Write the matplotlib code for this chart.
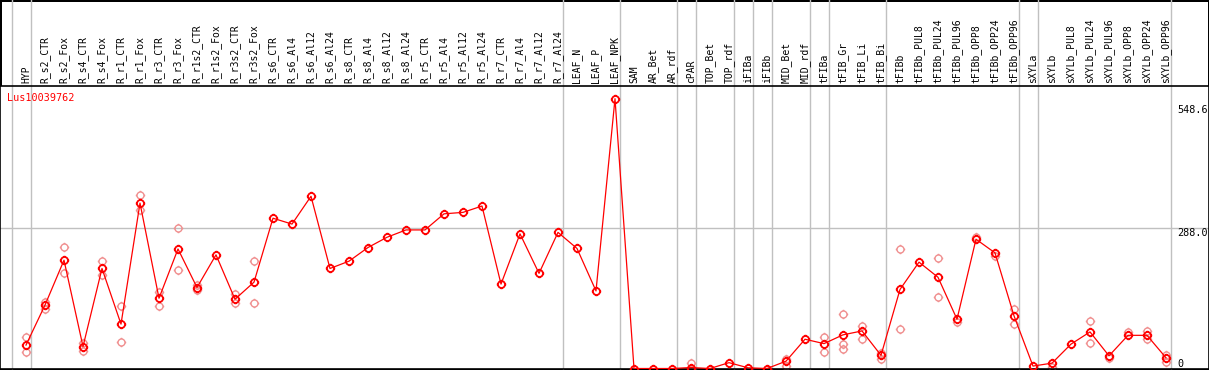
import numpy as np
import matplotlib
matplotlib.use("Agg")
import matplotlib.pyplot as plt
from matplotlib.path import Path

nan = np.nan

samples = ["HYP", "R_s2_CTR", "R_s2_Fox", "R_s4_CTR", "R_s4_Fox", "R_r1_CTR", "R_r1_Fox",
           "R_r3_CTR", "R_r3_Fox", "R_r1s2_CTR", "R_r1s2_Fox", "R_r3s2_CTR", "R_r3s2_Fox",
           "R_s6_CTR", "R_s6_Al4", "R_s6_Al12", "R_s6_Al24", "R_s8_CTR", "R_s8_Al4",
           "R_s8_Al12", "R_s8_Al24", "R_r5_CTR", "R_r5_Al4", "R_r5_Al12", "R_r5_Al24",
           "R_r7_CTR", "R_r7_Al4", "R_r7_Al12", "R_r7_Al24", "LEAF_N", "LEAF_P", "LEAF_NPK",
           "SAM", "AR_Bet", "AR_rdf", "cPAR", "TOP_Bet", "TOP_rdf", "iFIBa", "iFIBb",
           "MID_Bet", "MID_rdf", "tFIBa", "tFIB_Gr", "tFIB_Li", "tFIB_Bi", "tFIBb",
           "tFIBb_PUL8", "tFIBb_PUL24", "tFIBb_PUL96", "tFIBb_OPP8", "tFIBb_OPP24",
           "tFIBb_OPP96", "sXYLa", "sXYLb", "sXYLb_PUL8", "sXYLb_PUL24", "sXYLb_PUL96",
           "sXYLb_OPP8", "sXYLb_OPP24", "sXYLb_OPP96"]

mean_expr = [48, 130, 222, 45, 205, 91, 339, 144, 245, 166, 233, 142, 177,
             308, 296, 353, 205, 220, 248, 269, 284, 284, 317, 320, 333,
             173, 276, 195, 279, 246, 159, 553,
             0, 0, 0, 2, 0, 12, 1.5, 0, 15, 60, 51, 69, 77, 27, 162,
             218, 187, 101, 265, 237, 108, 5, 11, 50, 75, 26, 68, 68, 22]

rep_hi = [65, 137, 250, 52, 220, 128, 356, 157, 287, 171, nan, 152, 220,
          nan, nan, nan, nan, nan, nan, nan, nan, nan, nan, nan, nan,
          nan, nan, nan, nan, nan, nan, nan,
          nan, nan, nan, 11, nan, nan, nan, nan, 19, nan, 65, 111, 88, 32, 244,
          nan, 226, 96, 270, 231, 121, nan, nan, nan, 97, 21, 74, 77, 28]

rep_lo = [33, 121, 195, 36, 192, 55, 325, 128, 202, 161, nan, 134, 134,
          nan, nan, nan, nan, nan, nan, nan, nan, nan, nan, nan, nan,
          nan, nan, nan, nan, nan, nan, nan,
          nan, nan, nan, 0, nan, nan, nan, nan, 6, nan, 34, 50, 60, 19, 80,
          nan, 147, nan, nan, nan, 91, nan, 4, nan, 53, nan, nan, 61, 13]

rep_extra = [nan] * 43 + [41] + [nan] * 17

# group separators sit right after these samples
group_ends = [-1, 0, 28, 31, 34, 35, 37, 38, 39, 41, 42, 45, 52, 53, 60]

scale_ticks = [548.6, 288.0, 0]
scale_offsets = [-4, 0, 9.5]

x = np.arange(len(samples))

# open circle with four little ticks
tick_len = 1.35
marker = Path.make_compound_path(
    Path.unit_circle(),
    Path([(0, 1), (0, tick_len), (0, -1), (0, -tick_len),
          (1, 0), (tick_len, 0), (-1, 0), (-tick_len, 0)],
         [Path.MOVETO, Path.LINETO] * 4))

fig = plt.figure(figsize=(12.09, 3.70), dpi=100)
fig.patch.set_edgecolor("black")
fig.patch.set_linewidth(2)

ax = fig.add_axes([0, 1 / 370, 1, 283.5 / 370])
ax.set_xlim(-26 / 19, 1183 / 19)
ax.set_ylim(-1, 580)

top_ext = 1 + 86 / 283.5
for g in group_ends:
    ax.axvline(g + 0.24, ymin=0, ymax=top_ext, color="#c0c0c0", lw=1.0, clip_on=False, zorder=1)
ax.axhline(288.0, color="#c0c0c0", lw=1.0, zorder=1)

for reps in (rep_hi, rep_lo, rep_extra):
    ax.plot(x, reps, ls="none", marker=marker, ms=6.8, mfc="none",
            mec="#f09090", mew=1.0, zorder=2)

ax.plot(x, mean_expr, color="red", lw=0.9, marker=marker, ms=6.8, mfc="none",
        mec="red", mew=1.3, zorder=3)

ax.set_xticks(x)
ax.set_xticklabels(samples, rotation=90, fontsize=7, family="DejaVu Sans Mono")
ax.xaxis.tick_top()
ax.tick_params(axis="x", length=0, pad=2)
ax.set_yticks([])

for v, off in zip(scale_ticks, scale_offsets):
    lab = "0" if v == 0 else f"{v:.1f}"
    ax.annotate(lab, xy=(0.9735, v), xycoords=("axes fraction", "data"),
                xytext=(0, off), textcoords="offset pixels", va="top", ha="left",
                fontsize=7.3, family="DejaVu Sans Mono", color="black", annotation_clip=False)

ax.text(0.006, 0.975, "Lus10039762", transform=ax.transAxes, color="red",
        fontsize=7.3, family="DejaVu Sans Mono", va="top", ha="left")

for s in ax.spines.values():
    s.set_color("black")
    s.set_linewidth(1.2)

fig.savefig("out.png", dpi=100)
